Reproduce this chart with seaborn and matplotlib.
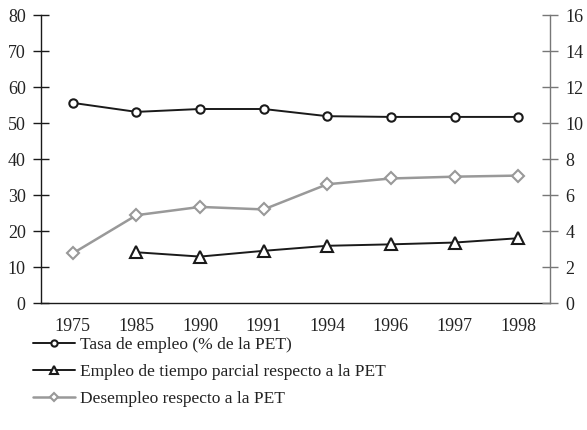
import numpy as np
import pandas as pd
import seaborn as sns
import matplotlib.pyplot as plt

years = ['1975', '1985', '1990', '1991', '1994', '1996', '1997', '1998']
tasa_empleo = [55.6, 53.1, 53.9, 53.9, 51.9, 51.7, 51.7, 51.7]
tiempo_parcial = [np.nan, 14.1, 12.9, 14.5, 15.9, 16.3, 16.8, 18.0]
desempleo = [13.8, 24.4, 26.7, 26.0, 33.0, 34.6, 35.1, 35.4]

labels = ['Tasa de empleo (% de la PET)',
          'Empleo de tiempo parcial respecto a la PET',
          'Desempleo respecto a la PET']

df = pd.DataFrame({'year': years, 'tasa': tasa_empleo,
                   'parcial': tiempo_parcial, 'desempleo': desempleo})

sns.set_style('white')
plt.rcParams['font.family'] = ['Liberation Serif', 'DejaVu Serif']
plt.rcParams['text.color'] = '#222222'

fig = plt.figure(figsize=(5.87, 4.3), dpi=100)
ax = fig.add_axes([0.0698, 0.2953, 0.8672, 0.6697])

black = '#1a1a1a'
gray = '#999999'
sns.lineplot(data=df, x='year', y='tasa', ax=ax, color=black, lw=1.4,
             marker='o', ms=6, mfc='white', mec=black, mew=1.5, label=labels[0], sort=False)
sns.lineplot(data=df.dropna(subset=['parcial']), x='year', y='parcial', ax=ax, color=black,
             lw=1.4, marker='^', ms=8, mfc='white', mec=black, mew=1.5, label=labels[1], sort=False)
sns.lineplot(data=df, x='year', y='desempleo', ax=ax, color=gray, lw=1.8,
             marker='D', ms=6, mfc='white', mec=gray, mew=1.5, label=labels[2], sort=False)

ax.set_xlim(-0.5, len(years) - 0.5)
ax.set_ylim(0, 80)
ax.set_yticks(range(0, 81, 10))
ax.set_xlabel('')
ax.set_ylabel('')
ax.set_xticks(range(len(years)))
ax.set_xticklabels(years)
ax.set_xticks(np.arange(-0.5, len(years)), minor=True)
ax.tick_params(axis='x', which='major', length=0, pad=11, labelsize=13, labelcolor='#222222')
ax.tick_params(axis='x', which='minor', direction='inout', length=10, width=1, color=black)
ax.tick_params(axis='y', direction='inout', length=12, width=1, color=black,
               pad=5, labelsize=13, labelcolor='#222222')

for s in ['top', 'right']:
    ax.spines[s].set_visible(False)
for s in ['left', 'bottom']:
    ax.spines[s].set_color(black)
    ax.spines[s].set_linewidth(1)

ax2 = ax.twinx()
ax2.set_ylim(0, 16)
ax2.set_yticks(range(0, 17, 2))
for s in ['top', 'left', 'bottom']:
    ax2.spines[s].set_visible(False)
ax2.spines['right'].set_color('#777777')
ax2.spines['right'].set_linewidth(1)
ax2.tick_params(axis='y', direction='inout', length=12, width=1, color='#777777',
                pad=5, labelsize=13, labelcolor='#222222')

handles, labs = ax.get_legend_handles_labels()
ax.get_legend().remove()
fig.legend(handles, labs, loc='upper left', bbox_to_anchor=(0.045, 0.232),
           frameon=False, fontsize=12.5, handlelength=2.4, handletextpad=0.3,
           labelspacing=0.62, borderaxespad=0, markerscale=0.75)

fig.savefig('out.png', dpi=100)
